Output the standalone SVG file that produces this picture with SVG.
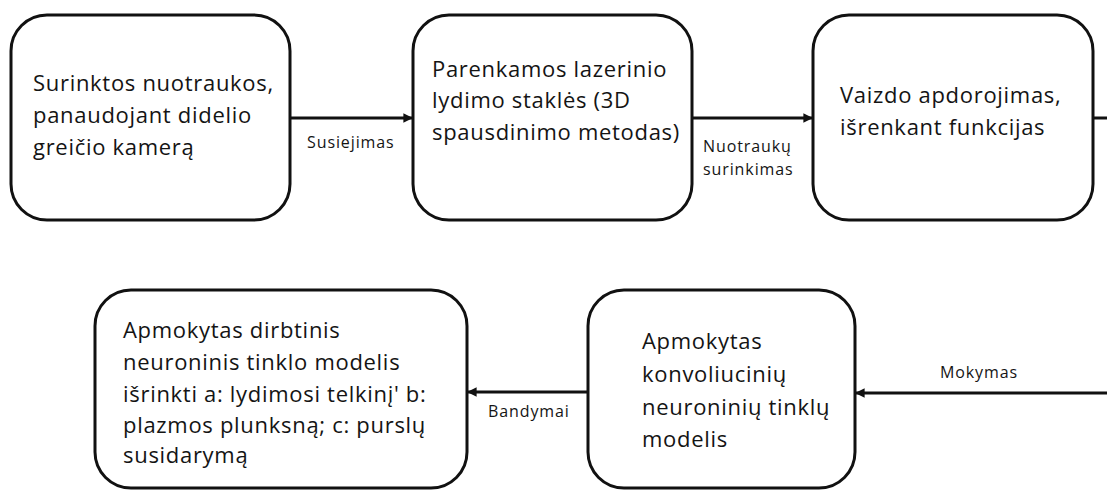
<svg xmlns="http://www.w3.org/2000/svg" width="1107" height="491" viewBox="0 0 1107 491">
  <defs>
    <marker id="arrow" viewBox="0 0 10 10" refX="9" refY="5" markerWidth="3.2" markerHeight="3.2" orient="auto" markerUnits="strokeWidth">
      <path d="M0,0 L10,5 L0,10 z" fill="#111"/>
    </marker>
    <style>
      .box { fill: #fff; stroke: #111; stroke-width: 3; }
      .txt { font-family: "Open Sans", "Liberation Sans", sans-serif; font-size: 22px; letter-spacing: 0.7px; fill: #141414; }
      .lbl { font-family: "Open Sans", "Liberation Sans", sans-serif; font-size: 16px; letter-spacing: 0.9px; fill: #141414; }
      .edge { stroke: #111; stroke-width: 3; fill: none; }
    </style>
  </defs>
  <rect width="1107" height="491" fill="#fff"/>

  <!-- connectors -->
  <g id="connectors">
    <line class="edge" x1="290" y1="118" x2="412" y2="118" marker-end="url(#arrow)"/>
    <line class="edge" x1="692" y1="118" x2="812" y2="118" marker-end="url(#arrow)"/>
    <line class="edge" x1="1093" y1="118" x2="1107" y2="118"/>
    <line class="edge" x1="1107" y1="393" x2="856" y2="393" marker-end="url(#arrow)"/>
    <line class="edge" x1="588" y1="392" x2="468" y2="392" marker-end="url(#arrow)"/>
    <text class="lbl" x="307" y="148">Susiejimas</text>
    <text class="lbl" x="703" y="152">Nuotraukų</text>
    <text class="lbl" x="703" y="175">surinkimas</text>
    <text class="lbl" x="940" y="378">Mokymas</text>
    <text class="lbl" x="488" y="417">Bandymai</text>
  </g>

  <g id="node-camera">
    <rect class="box" x="11" y="15" width="279" height="205" rx="36"/>
    <text class="txt" x="33" y="91">Surinktos nuotraukos,</text>
    <text class="txt" x="33" y="123">panaudojant didelio</text>
    <text class="txt" x="33" y="155">greičio kamerą</text>
  </g>

  <g id="node-machine">
    <rect class="box" x="413" y="15" width="279" height="205" rx="36"/>
    <text class="txt" x="432" y="77">Parenkamos lazerinio</text>
    <text class="txt" x="432" y="108">lydimo staklės (3D</text>
    <text class="txt" x="432" y="140">spausdinimo metodas)</text>
  </g>

  <g id="node-processing">
    <rect class="box" x="813" y="15" width="280" height="205" rx="36"/>
    <text class="txt" x="840" y="103">Vaizdo apdorojimas,</text>
    <text class="txt" x="840" y="135">išrenkant funkcijas</text>
  </g>

  <g id="node-cnn">
    <rect class="box" x="588" y="290" width="267" height="198" rx="36"/>
    <text class="txt" x="642" y="349">Apmokytas</text>
    <text class="txt" x="642" y="382">konvoliucinių</text>
    <text class="txt" x="642" y="415">neuroninių tinklų</text>
    <text class="txt" x="642" y="447">modelis</text>
  </g>

  <g id="node-ann">
    <rect class="box" x="95" y="290" width="372" height="198" rx="36"/>
    <text class="txt" x="123" y="338">Apmokytas dirbtinis</text>
    <text class="txt" x="123" y="370">neuroninis tinklo modelis</text>
    <text class="txt" x="123" y="402">išrinkti a: lydimosi telkinį' b:</text>
    <text class="txt" x="123" y="433">plazmos plunksną; c: purslų</text>
    <text class="txt" x="123" y="463">susidarymą</text>
  </g>
</svg>
